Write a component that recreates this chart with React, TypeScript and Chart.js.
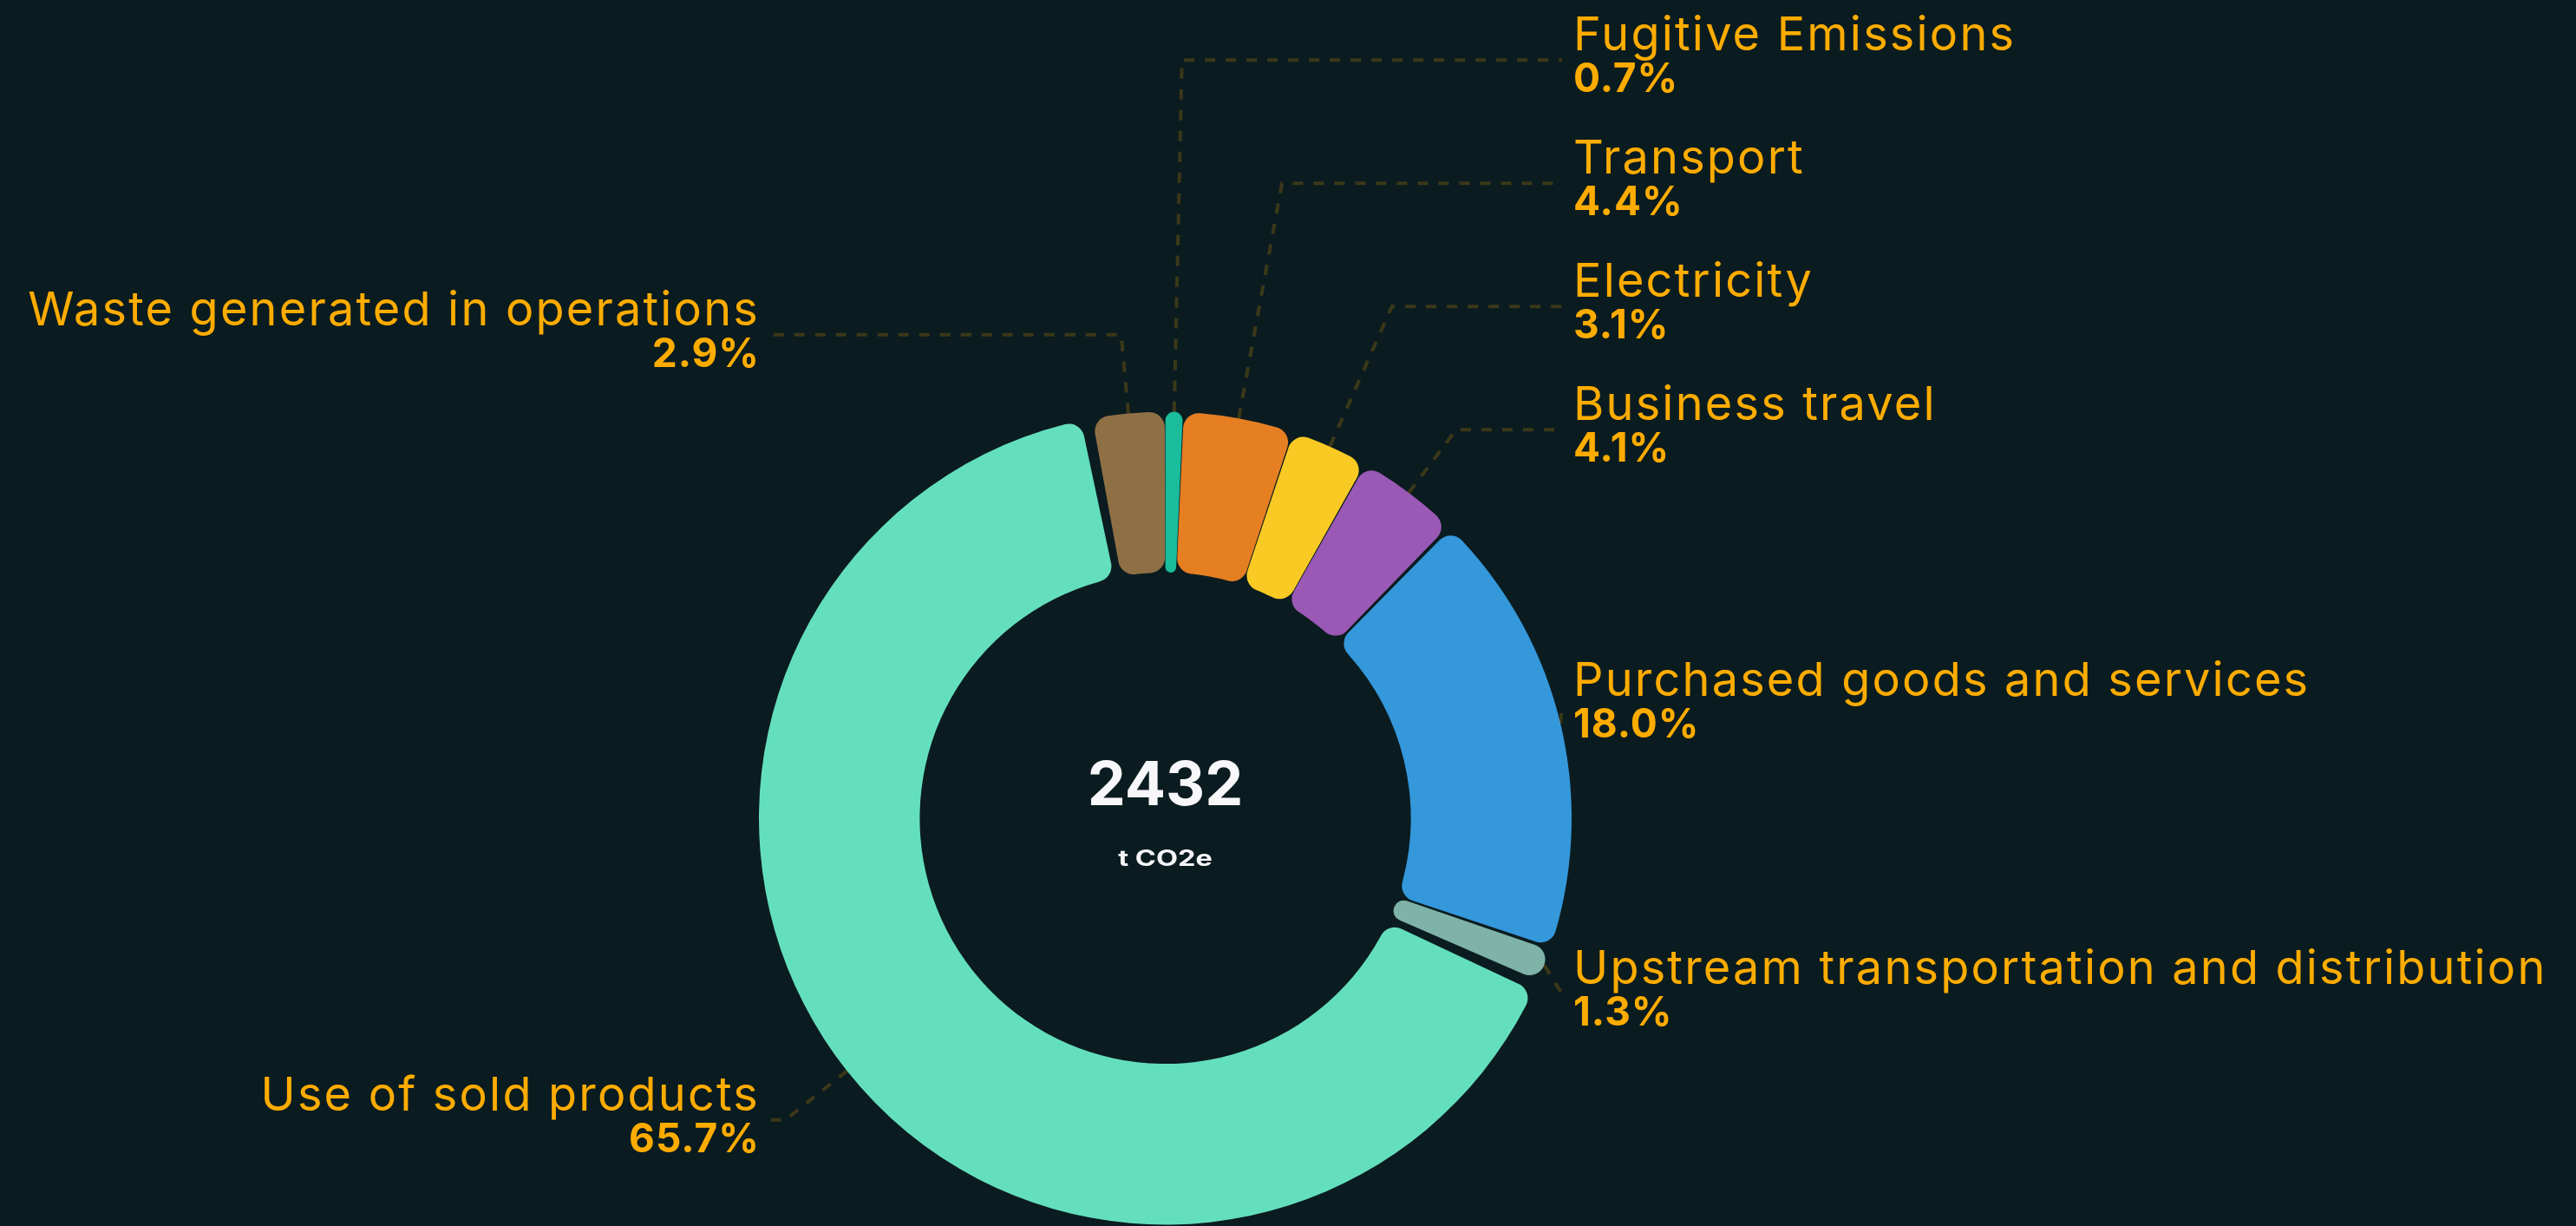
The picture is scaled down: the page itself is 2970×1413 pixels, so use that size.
import React, { useEffect, useRef } from 'react';
import { Chart, registerables } from 'chart.js';

Chart.register(...registerables);

const categories = [
  'Fugitive Emissions',
  'Transport',
  'Electricity',
  'Business travel',
  'Purchased goods and services',
  'Upstream transportation and distribution',
  'Use of sold products',
  'Waste generated in operations',
];
const shares = [0.7, 4.4, 3.1, 4.1, 18.0, 1.3, 65.7, 2.9];
const percentLabels = ['0.7%', '4.4%', '3.1%', '4.1%', '18.0%', '1.3%', '65.7%', '2.9%'];
const sliceColors = ['#1abc9c', '#e67e22', '#f9ca24', '#9b59b6', '#3498db', '#7fb3a7', '#64dfbd', '#8f7045'];
const totalValue = '2432';
const totalUnit = 't CO2e';

const W = 2970;
const H = 1413;
const BG = '#0b1c20';
const LABEL_COLOR = '#ffac00';
const SPACING = 10;
const LINE_LEN1 = 91;
const LABEL_GAP = 142;
const FONT = 'Inter, "Noto Sans", sans-serif';

function setSpacing(ctx: any, v: string) {
  if ('letterSpacing' in ctx) ctx.letterSpacing = v;
}

const labelPlugin = {
  id: 'sideLabels',
  afterDatasetsDraw(chart: any) {
    const ctx: CanvasRenderingContext2D = chart.ctx;
    const meta = chart.getDatasetMeta(0);
    const arcs = meta.data as any[];
    if (!arcs.length) return;
    const cx = arcs[0].x;
    const cy = arcs[0].y;
    const R = arcs[0].outerRadius + SPACING / 2;

    type L = { i: number; mid: number; right: boolean; natural: number; y: number };
    const items: L[] = arcs.map((a, i) => {
      const mid = (a.startAngle + a.endAngle) / 2;
      const natural = cy + (R + LINE_LEN1) * Math.sin(mid);
      return { i, mid, right: Math.cos(mid) >= 0, natural, y: natural };
    });
    [true, false].forEach((side) => {
      const group = items.filter((it) => it.right === side).sort((a, b) => a.natural - b.natural);
      for (let k = group.length - 2; k >= 0; k--) {
        group[k].y = Math.min(group[k].natural, group[k + 1].y - LABEL_GAP);
      }
    });

    ctx.save();
    // leader lines
    ctx.strokeStyle = 'rgba(255,172,0,0.2)';
    ctx.lineWidth = 4;
    ctx.setLineDash([12, 12]);
    items.forEach((it) => {
      const dx = Math.cos(it.mid);
      const dy = Math.sin(it.mid);
      const sx = cx + R * dx;
      const sy = cy + R * dy;
      let ex: number, ey: number;
      if (Math.abs(it.y - it.natural) < 0.5) {
        ex = cx + (R + LINE_LEN1) * dx;
        ey = cy + (R + LINE_LEN1) * dy;
      } else {
        const t = (it.y - cy) / dy;
        ex = cx + t * dx;
        ey = it.y;
      }
      const endX = it.right ? cx + R - 11 : cx - R + 14;
      if (it.right ? ex > endX : ex < endX) ex = endX;
      ctx.beginPath();
      ctx.moveTo(sx, sy);
      ctx.lineTo(ex, ey);
      ctx.lineTo(endX, ey);
      ctx.stroke();
    });
    ctx.setLineDash([]);

    // texts
    ctx.fillStyle = LABEL_COLOR;
    ctx.textBaseline = 'alphabetic';
    items.forEach((it) => {
      const tx = it.right ? cx + R + 2 : cx - R + 1;
      ctx.textAlign = it.right ? 'left' : 'right';
      ctx.font = `400 54px ${FONT}`;
      setSpacing(ctx, '2.2px');
      ctx.fillText(categories[it.i], tx, it.y - 11);
      ctx.font = `700 46px ${FONT}`;
      setSpacing(ctx, '1px');
      ctx.fillText(percentLabels[it.i], tx, it.y + 37);
    });
    setSpacing(ctx, '0px');

    // centre text
    ctx.fillStyle = '#f7f7fa';
    ctx.textAlign = 'center';
    ctx.font = `700 70px ${FONT}`;
    ctx.fillText(totalValue, cx, cy - 15);
    ctx.save();
    ctx.translate(cx, cy + 55);
    ctx.scale(1.3, 1);
    ctx.font = `700 25px ${FONT}`;
    ctx.fillText(totalUnit, 0, 0);
    ctx.restore();
    ctx.restore();
  },
};

export default function App() {
  const canvasRef = useRef<HTMLCanvasElement | null>(null);

  useEffect(() => {
    document.body.style.margin = '0';
    document.body.style.background = BG;
    const canvas = canvasRef.current;
    if (!canvas) return;
    const chart = new Chart(canvas, {
      type: 'doughnut',
      data: {
        labels: categories,
        datasets: [
          {
            data: shares,
            backgroundColor: sliceColors,
            borderWidth: 0,
            borderRadius: 18,
            spacing: SPACING,
            hoverOffset: 0,
          } as any,
        ],
      },
      options: {
        responsive: false,
        animation: false,
        cutout: '60%',
        rotation: 0,
        layout: { padding: { left: 875, right: 1158, top: 474.5, bottom: 1.5 } },
        plugins: {
          legend: { display: false },
          tooltip: { enabled: false },
          title: { display: false },
        },
        events: [],
      } as any,
      plugins: [labelPlugin],
    });
    return () => chart.destroy();
  }, []);

  return (
    <div style={{ position: 'fixed', left: 0, top: 0, width: W, height: H, background: BG }}>
      <canvas ref={canvasRef} width={W} height={H} style={{ display: 'block', width: W, height: H }} />
    </div>
  );
}
